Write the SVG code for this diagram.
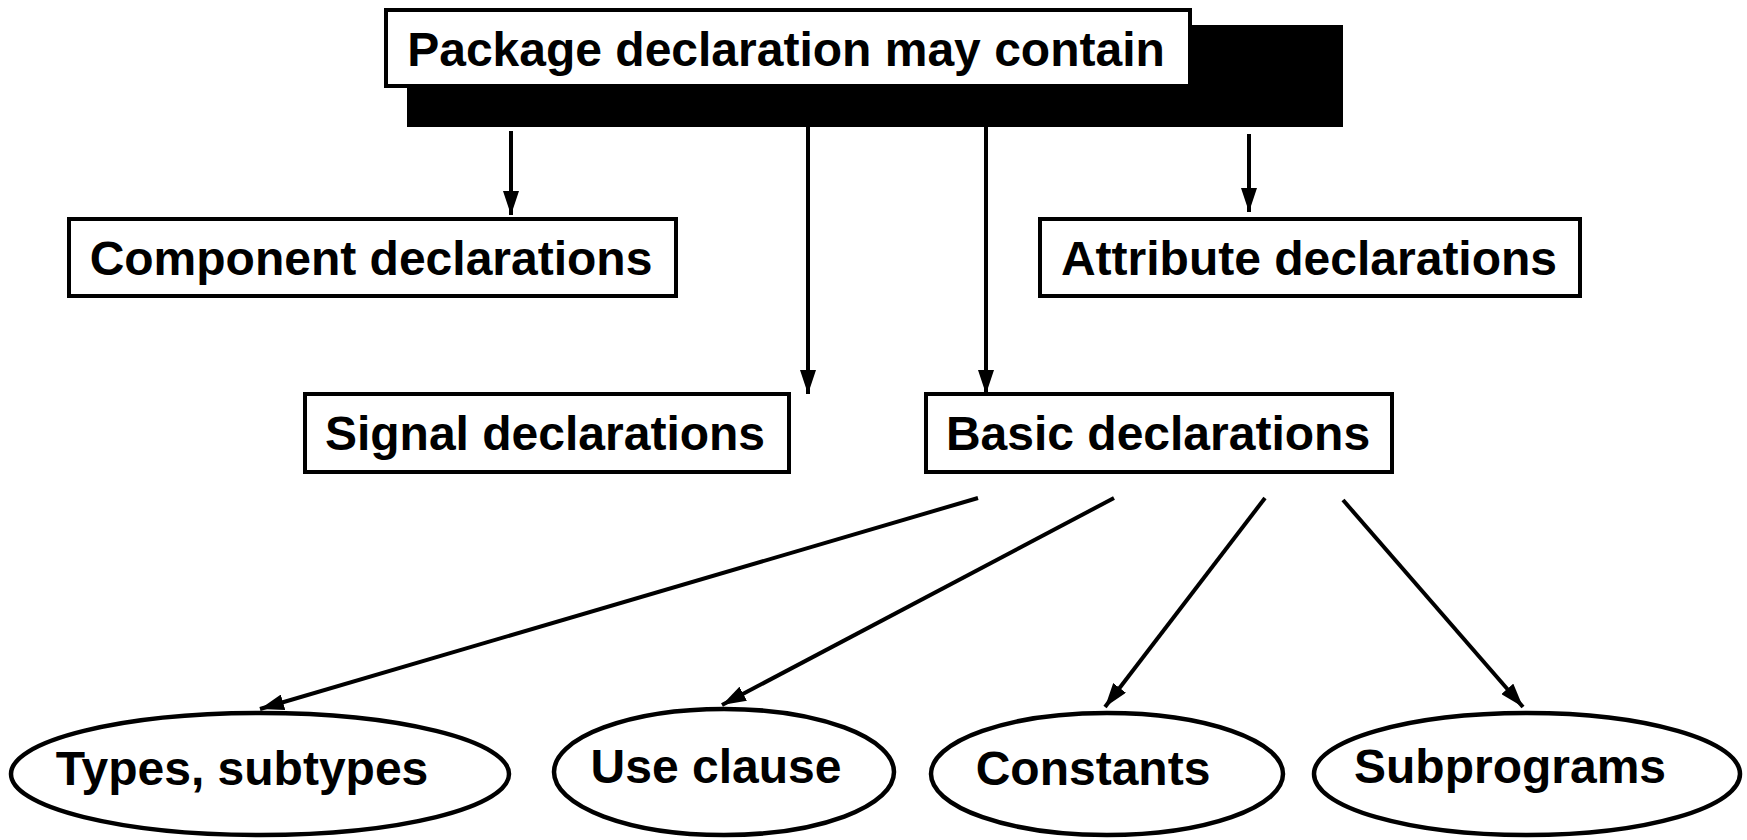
<svg xmlns="http://www.w3.org/2000/svg" width="1747" height="840" viewBox="0 0 1747 840">
<style>
.box{fill:#fff;stroke:#000;stroke-width:4}
.ell{fill:#fff;stroke:#000;stroke-width:4.5}
.lbl{font-family:"Liberation Sans",Arial,sans-serif;font-weight:bold;font-size:48px;fill:#000;text-anchor:middle}
.con{stroke:#000;stroke-width:4;fill:none;marker-end:url(#ah)}
</style>
<defs>
<marker id="ah" markerUnits="userSpaceOnUse" markerWidth="24" markerHeight="16" viewBox="0 0 24 16" refX="24" refY="8" orient="auto">
<path d="M0,0 L24,8 L0,16 Z" fill="#000"/>
</marker>
</defs>
<rect width="1747" height="840" fill="#fff"/>
<g id="package">
<rect x="407" y="25" width="936" height="102" fill="#000"/>
<rect class="box" x="386" y="10" width="804" height="76"/>
<text class="lbl" x="786" y="66">Package declaration may contain</text>
</g>
<g id="connectors">
<line class="con" x1="511" y1="131" x2="511" y2="215"/>
<line class="con" x1="808" y1="127" x2="808" y2="394"/>
<line class="con" x1="986" y1="127" x2="986" y2="394"/>
<line class="con" x1="1249" y1="134" x2="1249" y2="212"/>
<line class="con" x1="978" y1="498" x2="260" y2="709"/>
<line class="con" x1="1114" y1="498" x2="722" y2="705"/>
<line class="con" x1="1265" y1="498" x2="1105" y2="707"/>
<line class="con" x1="1343" y1="500" x2="1523" y2="707"/>
</g>
<g id="component">
<rect class="box" x="69" y="219" width="607" height="77"/>
<text class="lbl" x="371" y="275">Component declarations</text>
</g>
<g id="attribute">
<rect class="box" x="1040" y="219" width="540" height="77"/>
<text class="lbl" x="1309" y="275">Attribute declarations</text>
</g>
<g id="signal">
<rect class="box" x="305" y="394" width="484" height="78"/>
<text class="lbl" x="545" y="450">Signal declarations</text>
</g>
<g id="basic">
<rect class="box" x="926" y="394" width="466" height="78"/>
<text class="lbl" x="1158" y="450">Basic declarations</text>
</g>
<g id="types">
<ellipse class="ell" cx="260" cy="774" rx="249" ry="61"/>
<text class="lbl" x="242" y="785">Types, subtypes</text>
</g>
<g id="use">
<ellipse class="ell" cx="724" cy="772" rx="170" ry="63"/>
<text class="lbl" x="716" y="783">Use clause</text>
</g>
<g id="constants">
<ellipse class="ell" cx="1107" cy="774" rx="176" ry="61"/>
<text class="lbl" x="1093" y="785">Constants</text>
</g>
<g id="subprograms">
<ellipse class="ell" cx="1527" cy="774" rx="213" ry="61"/>
<text class="lbl" x="1510" y="783">Subprograms</text>
</g>
</svg>
